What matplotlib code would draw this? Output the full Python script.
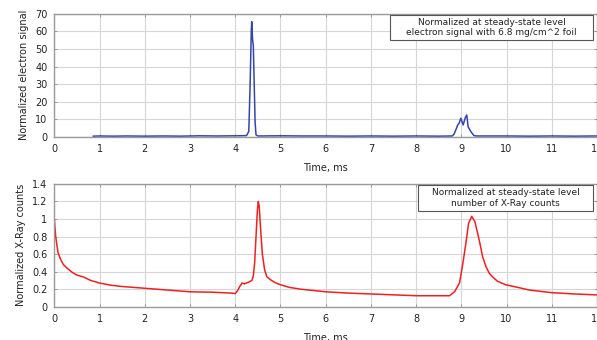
import matplotlib
matplotlib.use("Agg")
import matplotlib.pyplot as plt
from matplotlib.patches import Rectangle
from matplotlib.ticker import FuncFormatter

# ---- data ----
e_time = [0.86, 1.0, 1.3, 1.6, 2.0, 2.4, 2.8, 3.2, 3.6, 4.0, 4.25, 4.30, 4.33,
          4.355, 4.365, 4.375, 4.385, 4.40, 4.42, 4.44, 4.46, 4.50, 5.0, 5.5,
          6.0, 6.5, 7.0, 7.5, 8.0, 8.5, 8.80, 8.84, 8.88, 8.92, 8.95, 8.99,
          9.04, 9.09, 9.12, 9.15, 9.21, 9.28, 9.35, 10.0, 10.5, 11.0, 11.5, 12.0]
e_signal = [0.3, 0.4, 0.3, 0.4, 0.3, 0.4, 0.3, 0.5, 0.4, 0.5, 0.6, 3.0, 30.0,
            60.0, 65.6, 60.0, 55.0, 52.0, 30.0, 8.0, 1.0, 0.4, 0.5, 0.4,
            0.4, 0.3, 0.4, 0.3, 0.4, 0.3, 0.4, 1.5, 4.0, 6.7, 7.6, 10.5,
            6.7, 11.0, 12.4, 5.7, 2.9, 0.6, 0.4, 0.4, 0.3, 0.4, 0.3, 0.4]

x_time = [0.0, 0.03, 0.08, 0.13, 0.2, 0.28, 0.4, 0.5, 0.64, 0.8, 1.0, 1.25,
          1.5, 1.75, 2.0, 2.5, 3.0, 3.5, 3.9, 4.0, 4.05, 4.1, 4.15, 4.2, 4.25,
          4.3, 4.37, 4.4, 4.43, 4.46, 4.49, 4.51, 4.53, 4.56, 4.6, 4.65, 4.70,
          4.8, 4.9, 5.0, 5.2, 5.44, 6.0, 6.5, 7.0, 7.5, 8.0, 8.5, 8.74, 8.85,
          8.96, 9.03, 9.1, 9.16, 9.23, 9.3, 9.36, 9.42, 9.47, 9.55, 9.62, 9.69,
          9.8, 9.98, 10.25, 10.5, 10.75, 11.0, 11.5, 11.96, 12.0]
x_counts = [1.0, 0.8, 0.62, 0.55, 0.48, 0.44, 0.39, 0.36, 0.34, 0.30, 0.27, 0.245,
            0.23, 0.22, 0.21, 0.19, 0.17, 0.165, 0.155, 0.15, 0.18, 0.23, 0.27, 0.26, 0.27,
            0.28, 0.30, 0.35, 0.5, 0.8, 1.1, 1.2, 1.15, 0.9, 0.6, 0.42, 0.34,
            0.30, 0.27, 0.25, 0.22, 0.20, 0.17, 0.155, 0.145, 0.135, 0.125, 0.125, 0.125, 0.17,
            0.27, 0.48, 0.72, 0.95, 1.03, 0.97, 0.84, 0.7, 0.57, 0.45, 0.38, 0.34,
            0.29, 0.25, 0.22, 0.19, 0.175, 0.16, 0.145, 0.135, 0.135]

x_ticks = list(range(0, 13))
top_yticks = [0, 10, 20, 30, 40, 50, 60, 70]
bot_yticks = [0, 0.2, 0.4, 0.6, 0.8, 1.0, 1.2, 1.4]
top_box_lines = ["Normalized at steady-state level", "electron signal with 6.8 mg/cm^2 foil"]
bot_box_lines = ["Normalized at steady-state level", "number of X-Ray counts"]

fig = plt.figure(figsize=(5.97, 3.40), dpi=100)
ax1 = fig.add_axes([0.0910, 0.598, 0.909, 0.361])
ax2 = fig.add_axes([0.0910, 0.098, 0.909, 0.361])

FS = 7
for ax in (ax1, ax2):
    ax.set_xlim(0, 12)
    ax.set_xticks(x_ticks)
    ax.grid(True, color='#d6d6d6', linewidth=0.8)
    ax.set_axisbelow(True)
    for s in ax.spines.values():
        s.set_color('#9a9a9a')
        s.set_linewidth(1.0)
    ax.tick_params(direction='in', length=2.5, width=0.6, color='#909090',
                   labelsize=FS, labelcolor='#222222', top=True, right=True, pad=5)
    ax.set_xlabel("Time, ms", fontsize=FS, color='#222222', labelpad=7)

ax1.plot(e_time, e_signal, color='#3446a8', linewidth=1.1)
ax1.set_ylim(0, 70)
ax1.set_yticks(top_yticks)
ax1.set_ylabel("Normalized electron signal", fontsize=FS, color='#222222', labelpad=4)

ax2.plot(x_time, x_counts, color='#f02020', linewidth=1.1)
ax2.set_ylim(0, 1.4)
ax2.set_yticks(bot_yticks)
ax2.yaxis.set_major_formatter(FuncFormatter(lambda v, p: "%g" % round(v, 2)))
ax2.set_ylabel("Normalized X-Ray counts", fontsize=FS, color='#222222', labelpad=4)

def add_box(ax, x0, y0, w, h, lines):
    ax.add_patch(Rectangle((x0, y0), w, h, transform=ax.transAxes, facecolor='white',
                           edgecolor='#555555', linewidth=0.8, zorder=5, clip_on=False))
    ax.text(x0 + w / 2, y0 + h / 2, "\n".join(lines), transform=ax.transAxes,
            ha='center', va='center', fontsize=6.5, color='#222222', zorder=6,
            linespacing=1.2)

add_box(ax1, 0.6186, 0.788, 0.374, 0.204, top_box_lines)
add_box(ax2, 0.670, 0.780, 0.3225, 0.212, bot_box_lines)

fig.savefig("out.png", dpi=100)
